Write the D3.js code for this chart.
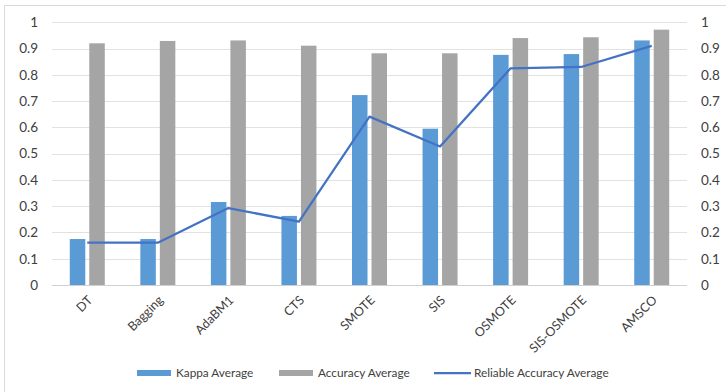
<!DOCTYPE html>
<html><head><meta charset="utf-8">
<script src="https://cdn.jsdelivr.net/npm/d3@7"></script>
<style>body{margin:0;background:#fff}svg{display:block}text{font-family:Lato,"Open Sans",sans-serif;fill:#404040}</style>
</head><body><svg id="c" width="726" height="392"></svg>
<script>
const categories = ["DT","Bagging","AdaBM1","CTS","SMOTE","SIS","OSMOTE","SIS-OSMOTE","AMSCO"];
const kappaAverage = [0.175,0.175,0.316,0.263,0.723,0.595,0.876,0.879,0.931];
const accuracyAverage = [0.920,0.929,0.931,0.911,0.882,0.882,0.940,0.943,0.972];
const reliableAccuracyAverage = [0.161,0.161,0.293,0.241,0.641,0.527,0.825,0.830,0.910];
const yTicks = [0,0.1,0.2,0.3,0.4,0.5,0.6,0.7,0.8,0.9,1];
const seriesNames = ["Kappa Average","Accuracy Average","Reliable Accuracy Average"];

const svg = d3.select("#c");
const plotLeft = 52, plotRight = 687, plotTop = 22.3, plotBottom = 285;
const x = d3.scaleBand().domain(categories).range([plotLeft,plotRight]);
const y = d3.scaleLinear().domain([0,1]).range([plotBottom,plotTop]);
const blue = "#5b9bd5", gray = "#a5a5a5", line = "#4472c4";

// chart border
svg.append("rect").attr("x",4.5).attr("y",5.5).attr("width",740).attr("height",400)
  .attr("fill","none").attr("stroke","#d9d9d9");

// gridlines
svg.append("g").selectAll("line").data(yTicks).join("line")
  .attr("x1",plotLeft).attr("x2",plotRight).attr("y1",d=>Math.round(y(d))+0.5).attr("y2",d=>Math.round(y(d))+0.5)
  .attr("stroke",d=>d===0?"#d0d0d0":"#e2e2e2").attr("stroke-width",1);

// axes
const fmt = d=>d===0?"0":d===1?"1":d3.format(".1f")(d);
const yl = svg.append("g").attr("transform",`translate(${plotLeft-14},0)`)
  .call(d3.axisLeft(y).tickValues(yTicks).tickFormat(fmt).tickSize(0).tickPadding(0));
yl.select(".domain").remove();
yl.selectAll("text").style("font-size","13.5px").attr("fill","#404040");
const yr = svg.append("g").attr("transform",`translate(${plotRight+14},0)`)
  .call(d3.axisRight(y).tickValues(yTicks).tickFormat(fmt).tickSize(0).tickPadding(0));
yr.select(".domain").remove();
yr.selectAll("text").style("font-size","13.5px").attr("fill","#404040");

// bars
const bw = 15.5, gap = 4;
svg.append("g").selectAll("rect").data(categories).join("rect")
  .attr("x",d=>x(d)+x.bandwidth()/2-gap/2-bw).attr("width",bw)
  .attr("y",(d,i)=>y(kappaAverage[i])).attr("height",(d,i)=>y(0)-y(kappaAverage[i]))
  .attr("fill",blue);
svg.append("g").selectAll("rect").data(categories).join("rect")
  .attr("x",d=>x(d)+x.bandwidth()/2+gap/2).attr("width",bw)
  .attr("y",(d,i)=>y(accuracyAverage[i])).attr("height",(d,i)=>y(0)-y(accuracyAverage[i]))
  .attr("fill",gray);

// line
svg.append("path").datum(reliableAccuracyAverage)
  .attr("d",d3.line().x((d,i)=>x(categories[i])+x.bandwidth()/2).y(d=>y(d)))
  .attr("fill","none").attr("stroke",line).attr("stroke-width",2.25).attr("stroke-linejoin","round");

// category labels
svg.append("g").selectAll("text").data(categories).join("text")
  .attr("transform",d=>`translate(${x(d)+x.bandwidth()/2+6},${301}) rotate(-45)`)
  .attr("text-anchor","end").style("font-size","12.5px").text(d=>d);

// legend
const lg = svg.append("g");
const items = [
  {name:seriesNames[0],type:"bar",color:blue,sx:137,tx:176},
  {name:seriesNames[1],type:"bar",color:gray,sx:279,tx:318},
  {name:seriesNames[2],type:"line",color:line,sx:434,tx:474}
];
items.forEach(it=>{
  if(it.type==="bar") lg.append("rect").attr("x",it.sx).attr("y",370).attr("width",34).attr("height",6).attr("fill",it.color);
  else lg.append("line").attr("x1",it.sx).attr("x2",it.sx+37).attr("y1",373).attr("y2",373).attr("stroke",it.color).attr("stroke-width",2.25);
  lg.append("text").attr("x",it.tx).attr("y",377).style("font-size","11.8px").text(it.name);
});
</script></body></html>
